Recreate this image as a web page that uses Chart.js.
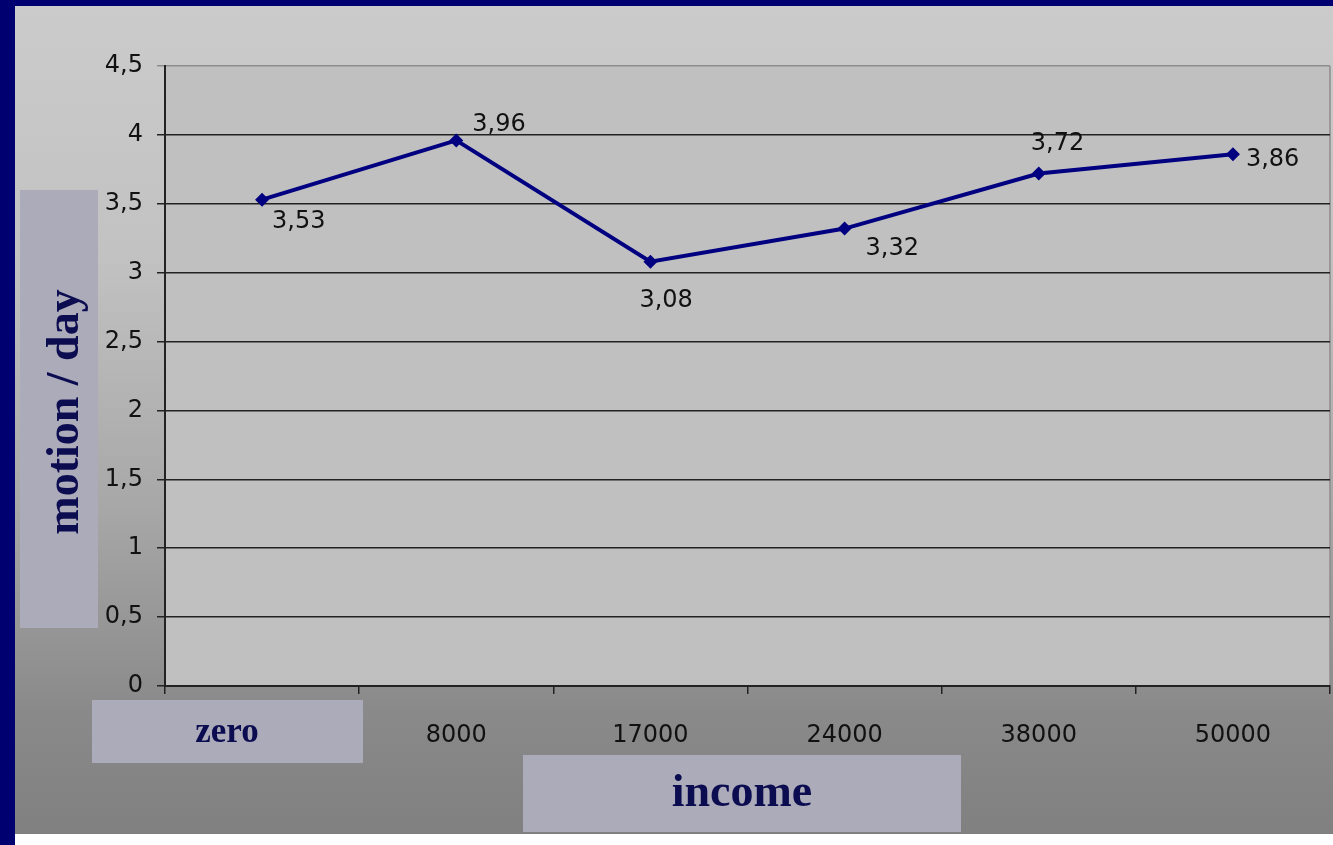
<!DOCTYPE html>
<html>
<head>
<meta charset="utf-8">
<script src="https://cdn.jsdelivr.net/npm/chart.js@4.4.0/dist/chart.umd.min.js"></script>
<style>
  html, body { margin: 0; padding: 0; background: #fff; }
  #wrap { width: 1333px; height: 845px; }
</style>
</head>
<body>
<div id="wrap"><canvas id="incomeChart" width="1333" height="845"></canvas></div>
<script>
// chart data
var categories = ["zero", "8000", "17000", "24000", "38000", "50000"];
var motionPerDay = [3.53, 3.96, 3.08, 3.32, 3.72, 3.86];
var yTicks = [0, 0.5, 1, 1.5, 2, 2.5, 3, 3.5, 4, 4.5];
var yTitle = "motion / day";
var xTitle = "income";

// where each value label sits relative to its point (dx, dy)
var labelOffsets = [[10, 22], [16, -16], [-11, 39], [21, 20], [-8, -30], [13, 6]];

var tickFont = "'DejaVu Sans', 'Liberation Sans', Arial, sans-serif";
var titleFont = "'Liberation Serif', 'Times New Roman', serif";

function fmt(v) {
    return String(v).replace(".", ",");
}

function box(ctx, x, y, w, h) {
    ctx.fillStyle = "#acabba";
    ctx.fillRect(x, y, w, h);
}

const slideDecor = {
    id: "slideDecor",
    beforeDraw(chart) {
        const { ctx, chartArea: { left, top, right, bottom } } = chart;
        ctx.save();
        // slide background
        ctx.fillStyle = "#ffffff";
        ctx.fillRect(0, 0, 1333, 845);
        var g = ctx.createLinearGradient(0, 6, 0, 834);
        g.addColorStop(0, "#cbcbcb");
        g.addColorStop(0.3, "#c2c2c2");
        g.addColorStop(0.6, "#a8a8a8");
        g.addColorStop(0.85, "#8a8a8a");
        g.addColorStop(1, "#808080");
        ctx.fillStyle = g;
        ctx.fillRect(15, 6, 1318, 828);
        ctx.fillStyle = "#000070";
        ctx.fillRect(0, 0, 1333, 6);
        ctx.fillRect(0, 0, 15, 845);
        // plot area
        ctx.fillStyle = "#c0c0c0";
        ctx.fillRect(left, top, right - left, bottom - top);
        ctx.strokeStyle = "#8c8c8c";
        ctx.lineWidth = 1.5;
        ctx.beginPath();
        ctx.moveTo(right, top);
        ctx.lineTo(right, bottom);
        ctx.stroke();
        ctx.restore();
    },
    afterDraw(chart) {
        const { ctx } = chart;
        const meta = chart.getDatasetMeta(0);
        ctx.save();
        // value labels
        ctx.font = "24px " + tickFont;
        ctx.fillStyle = "#111111";
        ctx.textAlign = "left";
        ctx.textBaseline = "middle";
        meta.data.forEach(function (pt, i) {
            var o = labelOffsets[i];
            ctx.fillText(fmt(motionPerDay[i]), pt.x + o[0], pt.y + o[1]);
        });
        // title boxes
        box(ctx, 20, 190, 78, 438);
        box(ctx, 92, 700, 271, 63);
        box(ctx, 523, 755, 438, 77);
        ctx.fillStyle = "#0c0c50";
        ctx.textAlign = "center";
        ctx.font = "bold 35px " + titleFont;
        ctx.fillText(categories[0], 227, 733);
        ctx.font = "bold 46px " + titleFont;
        ctx.fillText(xTitle, 742, 794);
        ctx.translate(66, 412);
        ctx.rotate(-Math.PI / 2);
        ctx.font = "bold 46px " + titleFont;
        ctx.fillText(yTitle, 0, 0);
        ctx.restore();
    },
};

var ctx = document.getElementById("incomeChart");
var incomeChart = new Chart(ctx, {
    type: "line",
    data: {
        labels: categories,
        datasets: [
            {
                label: yTitle,
                data: motionPerDay,
                borderColor: "#000080",
                backgroundColor: "#000080",
                borderWidth: 4,
                pointStyle: "rectRot",
                pointRadius: 7,
                pointBorderWidth: 0,
                tension: 0,
            },
        ],
    },
    options: {
        responsive: false,
        animation: false,
        layout: { autoPadding: false, padding: { left: 0, top: 66, right: 3, bottom: 0 } },
        plugins: {
            legend: { display: false },
            tooltip: { enabled: false },
        },
        scales: {
            x: {
                offset: true,
                afterFit: function (scale) {
                    scale.height = 159;
                    scale.paddingLeft = 0;
                    scale.paddingRight = 0;
                },
                grid: {
                    offset: true,
                    drawOnChartArea: false,
                    drawTicks: true,
                    tickLength: 8,
                    color: "#222222",
                    lineWidth: 1.5,
                },
                border: { color: "#222222", width: 2 },
                ticks: {
                    padding: 27,
                    color: "#111111",
                    font: { family: tickFont, size: 24 },
                    callback: function (v, i) { return i === 0 ? "" : categories[i]; },
                },
            },
            y: {
                min: 0,
                max: 4.5,
                afterFit: function (scale) {
                    scale.width = 165;
                    scale.paddingTop = 0;
                    scale.paddingBottom = 0;
                },
                afterBuildTicks: function (scale) {
                    scale.ticks = yTicks.map(function (v) { return { value: v }; });
                },
                grid: {
                    color: function (c) { return c.tick && c.tick.value === 4.5 ? "#8c8c8c" : "#222222"; },
                    lineWidth: 1.5,
                    tickLength: 8,
                },
                border: { color: "#222222", width: 2 },
                ticks: {
                    padding: 14,
                    color: "#111111",
                    font: { family: tickFont, size: 24 },
                    callback: function (v) { return fmt(v); },
                },
            },
        },
    },
    plugins: [slideDecor],
});
</script>
</body>
</html>
